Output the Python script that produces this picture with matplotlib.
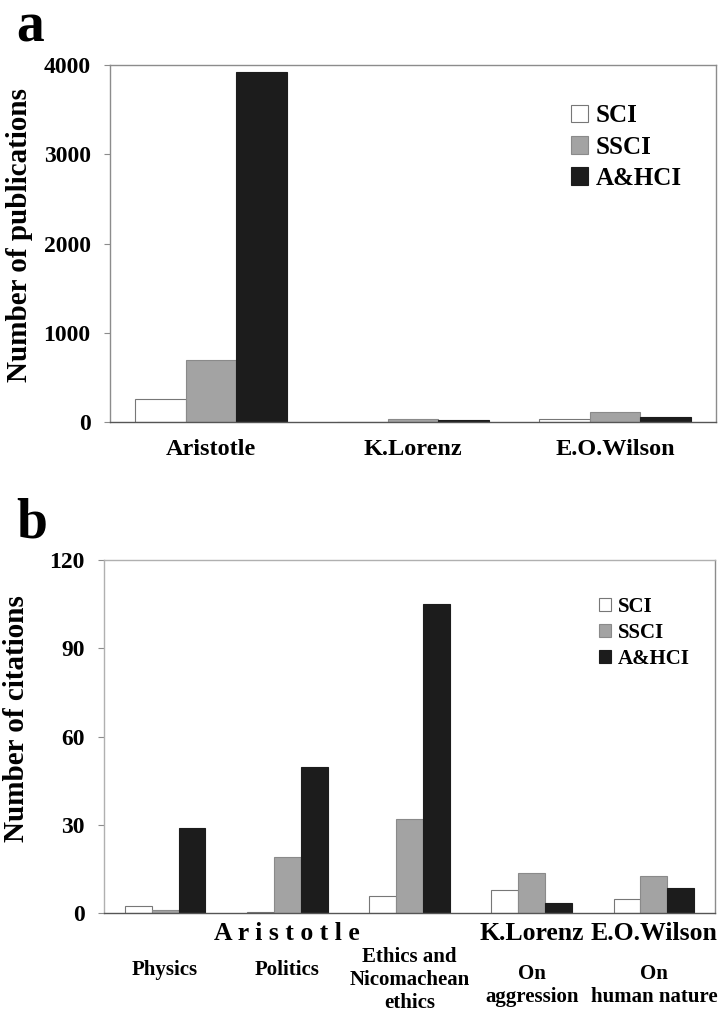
import matplotlib
matplotlib.use("Agg")
import matplotlib.pyplot as plt
import numpy as np

plt.rcParams['font.family'] = ['Liberation Serif', 'DejaVu Serif']
plt.rcParams['font.weight'] = 'bold'

series = ['SCI', 'SSCI', 'A&HCI']
colors = ['white', '#a3a3a3', '#1c1c1c']
edges = ['#777777', '#8a8a8a', '#1c1c1c']

# panel a: publications
authors = ['Aristotle', 'K.Lorenz', 'E.O.Wilson']
pub_sci = [254, 3, 37]
pub_ssci = [692, 34, 108]
pub_ahci = [3925, 22, 56]

# panel b: citations of single works
works = ['Physics', 'Politics', 'Ethics and\nNicomachean\nethics',
         'On\naggression', 'On\nhuman nature']
work_authors = ['A r i s t o t l e', 'K.Lorenz', 'E.O.Wilson']
cit_sci = [2.3, 0.3, 5.8, 7.7, 4.9]
cit_ssci = [1.1, 18.9, 31.8, 13.6, 12.5]
cit_ahci = [29, 49.8, 105, 3.5, 8.6]


def style_axes(ax):
    for side in ['top', 'right', 'left', 'bottom']:
        ax.spines[side].set_color('#8c8c8c')
        ax.spines[side].set_linewidth(1.0)
    ax.spines['bottom'].set_color('#555555')
    ax.tick_params(axis='x', length=0)
    ax.tick_params(axis='y', length=4, color='#8c8c8c', pad=10)


def draw_bars(ax, values, width):
    x = np.arange(len(values[0]))
    for i, vals in enumerate(values):
        ax.bar(x + (i - 1) * width, vals, width, color=colors[i],
               edgecolor=edges[i], linewidth=0.8, label=series[i])
    ax.set_xlim(-0.5, len(values[0]) - 0.5)
    return x


fig = plt.figure(figsize=(7.2, 10.14), dpi=100)

# ---- panel a ----
ax1 = fig.add_axes([0.1528, 0.5838, 0.8416, 0.3521])
x1 = draw_bars(ax1, [pub_sci, pub_ssci, pub_ahci], 0.25)
ax1.set_ylim(0, 4000)
ax1.set_yticks([0, 1000, 2000, 3000, 4000])
ax1.set_xticks(x1)
ax1.set_xticklabels(authors, fontsize=17.5, fontweight='bold')
ax1.tick_params(axis='x', pad=12)
for lab in ax1.get_yticklabels():
    lab.set_fontsize(17)
    lab.set_fontweight('bold')
style_axes(ax1)
ax1.set_ylabel('Number of publications', fontsize=21, fontweight='bold')
ax1.yaxis.set_label_coords(-0.127, 0.524)
ax1.legend(loc='upper left', bbox_to_anchor=(0.76, 0.89), frameon=False,
           fontsize=18, handlelength=0.7, handleheight=0.7,
           handletextpad=0.3, labelspacing=0.33, borderpad=0, borderaxespad=0)
fig.text(0.022, 0.9586, 'a', fontsize=40, fontweight='bold', va='baseline')

# ---- panel b ----
ax2 = fig.add_axes([0.1444, 0.0996, 0.8486, 0.3481])
x2 = draw_bars(ax2, [cit_sci, cit_ssci, cit_ahci], 0.22)
ax2.set_ylim(0, 120)
ax2.set_yticks([0, 30, 60, 90, 120])
ax2.set_xticks(x2)
ax2.set_xticklabels([])
for lab in ax2.get_yticklabels():
    lab.set_fontsize(17)
    lab.set_fontweight('bold')
style_axes(ax2)
ax2.spines['top'].set_color('#b0b0b0')
ax2.spines['left'].set_color('#b0b0b0')
ax2.set_ylabel('Number of citations', fontsize=21, fontweight='bold')
ax2.yaxis.set_label_coords(-0.121, 0.552)
ax2.legend(loc='upper left', bbox_to_anchor=(0.81, 0.895), frameon=False,
           fontsize=15, handlelength=0.6, handleheight=0.6,
           handletextpad=0.3, labelspacing=0.28, borderpad=0, borderaxespad=0)

trans = ax2.get_xaxis_transform()
author_pos = [1, 3, 4]
for pos, name in zip(author_pos, work_authors):
    ax2.text(pos, -0.057, name, transform=trans, ha='center', va='center',
             fontsize=18.5, fontweight='bold')
for pos, w in zip(x2, works):
    nlines = w.count('\n') + 1
    yy = -0.161 if nlines == 1 else (-0.19 if nlines == 3 else -0.204)
    ax2.text(pos, yy, w, transform=trans, ha='center', va='center',
             fontsize=15, fontweight='bold', linespacing=1.2)
fig.text(0.022, 0.4695, 'b', fontsize=40, fontweight='bold', va='baseline')

fig.savefig('out.png', dpi=100)
